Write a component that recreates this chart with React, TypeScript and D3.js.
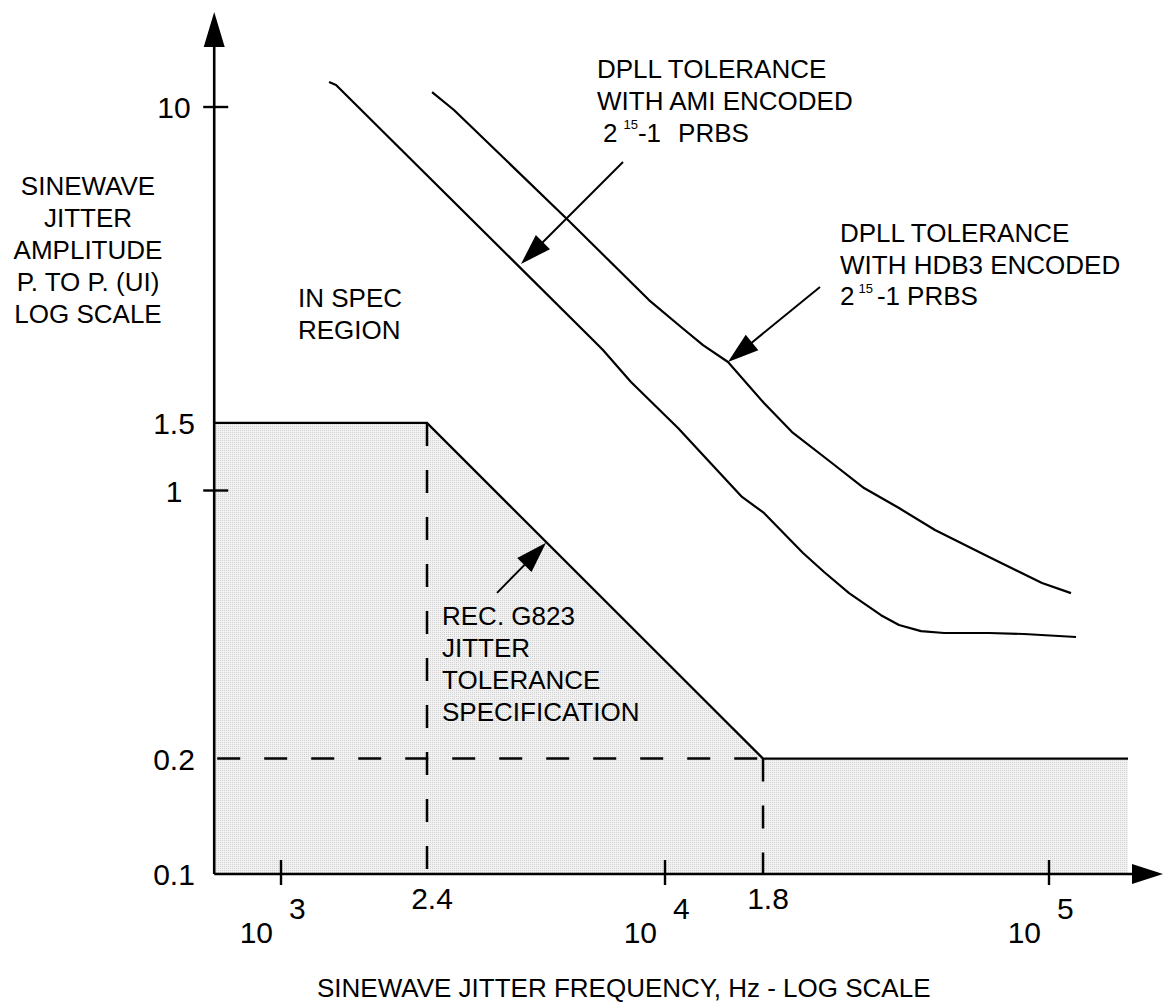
import React from "react";
import * as d3 from "d3";

// ---------- data ----------
// DPLL tolerance with AMI encoded 2^15-1 PRBS (Hz, UI p-p)
const amiFreq = [1334, 1391, 6494, 6894, 8155, 10811, 12561, 15870, 18100, 22880, 25960, 30150, 36520, 40680, 46420, 53290, 69800, 86070, 117600];
const amiAmp = [11.62, 11.41, 2.469, 2.325, 1.918, 1.455, 1.238, 0.962, 0.874, 0.687, 0.613, 0.54, 0.473, 0.446, 0.43, 0.425, 0.425, 0.4225, 0.415];

// DPLL tolerance with HDB3 encoded 2^15-1 PRBS
const hdb3Freq = [2474, 2821, 5589, 9085, 11010, 12561, 14590, 18100, 21420, 26580, 32980, 40680, 50480, 69800, 95900, 114100];
const hdb3Amp = [10.94, 9.82, 5.074, 3.138, 2.669, 2.395, 2.163, 1.691, 1.42, 1.201, 1.015, 0.9, 0.789, 0.671, 0.574, 0.54];

// Rec. G823 jitter tolerance mask
const maskFreq = [670, 2400, 18000, 160600];
const maskAmp = [1.5, 1.5, 0.2, 0.2];

// axes
const xOriginFreq = 670;
const yOriginAmp = 0.1;
const xDecades = [1000, 10000, 100000];
const xDecadeExponents = ["3", "4", "5"];
const xCornerFreqs = [2400, 18000];
const xCornerLabels = ["2.4", "1.8"];
const yTickValues = [10, 1];
const yLabelValues = [10, 1.5, 1, 0.2, 0.1];
const yLabelTexts = ["10", "1.5", "1", "0.2", "0.1"];

const yTitleLines = ["SINEWAVE", "JITTER", "AMPLITUDE", "P. TO P. (UI)", "LOG SCALE"];
const xTitle = "SINEWAVE JITTER FREQUENCY, Hz - LOG SCALE";
const inSpecLines = ["IN SPEC", "REGION"];
const g823Lines = ["REC. G823", "JITTER", "TOLERANCE", "SPECIFICATION"];
const amiLines = ["DPLL TOLERANCE", "WITH AMI ENCODED"];
const hdb3Lines = ["DPLL TOLERANCE", "WITH HDB3 ENCODED"];

// ---------- layout ----------
const W = 1164;
const H = 1002;
const FONT = "'Liberation Sans', Arial, Helvetica, sans-serif";

const xScale = d3.scaleLog().domain([1000, 100000]).range([281, 1049]);
const yScale = d3.scaleLog().domain([0.1, 10]).range([874, 107]);

function Arrow({ x1, y1, x2, y2, len = 31, half = 10, sw = 2 }: any) {
  const dx = x2 - x1;
  const dy = y2 - y1;
  const d = Math.sqrt(dx * dx + dy * dy);
  const ux = dx / d;
  const uy = dy / d;
  const bx = x2 - ux * len;
  const by = y2 - uy * len;
  const px = -uy * half;
  const py = ux * half;
  return (
    <g>
      <line x1={x1} y1={y1} x2={bx + ux * 2} y2={by + uy * 2} stroke="#000" strokeWidth={sw} />
      <polygon points={`${x2},${y2} ${bx + px},${by + py} ${bx - px},${by - py}`} fill="#000" />
    </g>
  );
}

export default function App() {
  const ax = xScale(xOriginFreq);
  const ay = yScale(yOriginAmp);
  const yTop = 12;
  const xRight = 1163;

  const line = d3
    .line<[number, number]>()
    .x((d) => xScale(d[0]))
    .y((d) => yScale(d[1]));

  const amiPts = amiFreq.map((f, i) => [f, amiAmp[i]] as [number, number]);
  const hdb3Pts = hdb3Freq.map((f, i) => [f, hdb3Amp[i]] as [number, number]);
  const maskPts = maskFreq.map((f, i) => [f, maskAmp[i]] as [number, number]);

  const area = d3
    .area<[number, number]>()
    .x((d) => xScale(d[0]))
    .y0(ay)
    .y1((d) => yScale(d[1]));

  // arrow tips placed on the curves (data space)
  const amiTip = { x: xScale(4217), y: yScale(3.896) };
  const hdb3Tip = { x: xScale(14590), y: yScale(2.163) };
  const g823TipF = 4930;
  const g823Tip = { x: xScale(g823TipF), y: yScale((1.5 * 2400) / g823TipF) };

  const textStyle = { fontFamily: FONT, fontSize: 26, fill: "#000" } as any;
  const tickStyle = { fontFamily: FONT, fontSize: 30, fill: "#000" } as any;

  return (
    <svg
      width={W}
      height={H}
      viewBox={`0 0 ${W} ${H}`}
      style={{ position: "absolute", left: 0, top: 0, background: "#fff" }}
    >
      <defs>
        <pattern id="stipple" width="2" height="2" patternUnits="userSpaceOnUse">
          <rect width="2" height="2" fill="#f2f2f2" />
          <rect width="1" height="1" fill="#d0d0d0" />
        </pattern>
      </defs>
      <rect width={W} height={H} fill="#fff" />

      {/* shaded mask region */}
      <path d={area(maskPts) || ""} fill="url(#stipple)" stroke="none" />

      {/* dashed construction lines */}
      <g stroke="#000" strokeWidth={2.5} strokeDasharray="23 24" fill="none">
        <line x1={ax + 3} y1={yScale(0.2)} x2={xScale(18000)} y2={yScale(0.2)} />
        <line x1={xScale(2400)} y1={yScale(1.5)} x2={xScale(2400)} y2={ay} />
        <line x1={xScale(18000)} y1={yScale(0.2)} x2={xScale(18000)} y2={ay} />
      </g>

      {/* G823 mask outline */}
      <path d={line(maskPts) || ""} fill="none" stroke="#000" strokeWidth={2.2} />

      {/* DPLL curves */}
      <path d={line(amiPts) || ""} fill="none" stroke="#000" strokeWidth={2.2} strokeLinejoin="round" />
      <path d={line(hdb3Pts) || ""} fill="none" stroke="#000" strokeWidth={2.2} strokeLinejoin="round" />

      {/* axes */}
      <line x1={ax} y1={ay} x2={ax} y2={yTop + 30} stroke="#000" strokeWidth={2.6} />
      <polygon points={`${ax},${yTop} ${ax - 10.5},${yTop + 35} ${ax + 10.5},${yTop + 35}`} fill="#000" />
      <line x1={ax} y1={ay} x2={xRight - 28} y2={ay} stroke="#000" strokeWidth={2.6} />
      <polygon points={`${xRight},${ay} ${xRight - 31},${ay - 10} ${xRight - 31},${ay + 10}`} fill="#000" />

      {/* y ticks */}
      {yTickValues.map((v) => (
        <line key={"yt" + v} x1={ax - 11} x2={ax + 14} y1={yScale(v)} y2={yScale(v)} stroke="#000" strokeWidth={2.4} />
      ))}
      {yLabelValues.map((v, i) => (
        <text key={"yl" + v} x={174} y={yScale(v) + 11} textAnchor="middle" style={tickStyle}>
          {yLabelTexts[i]}
        </text>
      ))}

      {/* x ticks */}
      {xDecades.map((v, i) => (
        <g key={"xt" + v}>
          <line x1={xScale(v)} x2={xScale(v)} y1={ay - 14} y2={ay + 11} stroke="#000" strokeWidth={2.4} />
          <text x={xScale(v) - 8} y={943} textAnchor="end" style={tickStyle}>
            10
          </text>
          <text x={xScale(v) + 8} y={919} textAnchor="start" style={tickStyle}>
            {xDecadeExponents[i]}
          </text>
        </g>
      ))}
      {xCornerFreqs.map((v, i) => (
        <text key={"xc" + v} x={xScale(v) + 5} y={909} textAnchor="middle" style={tickStyle}>
          {xCornerLabels[i]}
        </text>
      ))}

      {/* axis titles */}
      {yTitleLines.map((t, i) => (
        <text key={"ytt" + i} x={88} y={195 + i * 32} textAnchor="middle" style={textStyle}>
          {t}
        </text>
      ))}
      <text x={317} y={997} style={textStyle}>
        {xTitle}
      </text>

      {/* region labels */}
      {inSpecLines.map((t, i) => (
        <text key={"is" + i} x={298} y={307 + i * 32} style={textStyle}>
          {t}
        </text>
      ))}
      {g823Lines.map((t, i) => (
        <text key={"g8" + i} x={442} y={625 + i * 32} style={textStyle}>
          {t}
        </text>
      ))}

      {/* AMI label */}
      {amiLines.map((t, i) => (
        <text key={"am" + i} x={597} y={78 + i * 32} style={textStyle}>
          {t}
        </text>
      ))}
      <text x={603} y={142} style={textStyle}>
        <tspan>2</tspan>
        <tspan dx={6} dy={-13} fontSize={13}>15</tspan>
        <tspan dx={0} dy={13} fontSize={26}>-1</tspan>
        <tspan dx={17}>PRBS</tspan>
      </text>

      {/* HDB3 label */}
      {hdb3Lines.map((t, i) => (
        <text key={"hd" + i} x={840} y={242 + i * 31.5} style={textStyle}>
          {t}
        </text>
      ))}
      <text x={840} y={305} style={textStyle}>
        <tspan>2</tspan>
        <tspan dx={4} dy={-12} fontSize={13}>15</tspan>
        <tspan dx={4} dy={12} fontSize={26}>-1</tspan>
        <tspan dx={7}>PRBS</tspan>
      </text>

      {/* annotation arrows */}
      <Arrow x1={amiTip.x + 102} y1={amiTip.y - 102} x2={amiTip.x} y2={amiTip.y} />
      <Arrow x1={hdb3Tip.x + 92} y1={hdb3Tip.y - 75} x2={hdb3Tip.x} y2={hdb3Tip.y} />
      <Arrow x1={g823Tip.x - 50} y1={g823Tip.y + 50} x2={g823Tip.x - 1} y2={g823Tip.y} />
    </svg>
  );
}
